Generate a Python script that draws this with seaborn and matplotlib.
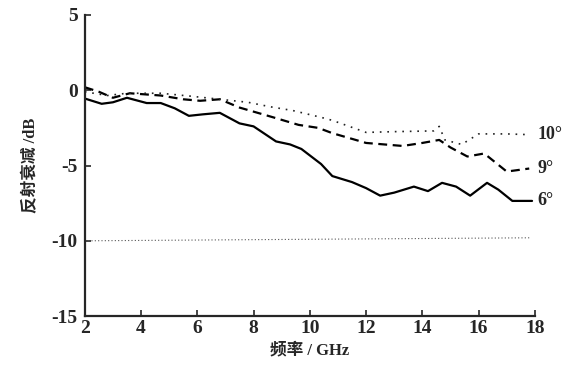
import numpy as np
import pandas as pd
import matplotlib.pyplot as plt
import seaborn as sns

# 6 deg sample (solid)
x6 = [2.0, 2.6, 3.0, 3.5, 4.2, 4.7, 5.2, 5.7, 6.2, 6.8, 7.2, 7.5, 8.0, 8.4, 8.8, 9.3, 9.7, 10.4, 10.8, 11.5, 12.0, 12.5, 13.0, 13.7, 14.2, 14.7, 15.2, 15.7, 16.3, 16.7, 17.2, 17.9]
y6 = [-0.55, -0.9, -0.8, -0.5, -0.85, -0.85, -1.2, -1.7, -1.6, -1.5, -1.9, -2.2, -2.4, -2.9, -3.4, -3.6, -3.9, -4.9, -5.7, -6.1, -6.5, -7.0, -6.8, -6.4, -6.7, -6.15, -6.4, -7.0, -6.15, -6.6, -7.35, -7.35]

# 9 deg sample (dashed)
x9 = [2.0, 2.5, 3.0, 3.6, 4.7, 5.5, 6.1, 6.8, 7.5, 8.7, 9.6, 10.3, 10.8, 12.0, 13.3, 14.0, 14.6, 15.0, 15.6, 16.2, 16.6, 17.0, 17.8]
y9 = [0.2, -0.1, -0.5, -0.2, -0.35, -0.6, -0.7, -0.6, -1.15, -1.8, -2.3, -2.5, -2.85, -3.5, -3.7, -3.5, -3.3, -3.8, -4.4, -4.2, -4.8, -5.4, -5.2]

# 10 deg sample (dotted)
x10 = [2.0, 2.8, 3.5, 4.7, 5.8, 6.8, 7.8, 8.6, 9.4, 10.4, 10.8, 12.0, 13.0, 14.4, 14.6, 14.8, 15.4, 16.0, 17.0, 17.8]
y10 = [-0.1, -0.35, -0.2, -0.2, -0.4, -0.6, -0.8, -1.1, -1.35, -1.8, -2.0, -2.8, -2.75, -2.7, -2.4, -3.3, -3.6, -2.9, -2.9, -2.95]

# -10 dB reference line
xref = [2.0, 17.8]
yref = [-10.0, -9.8]

labels = ["10°", "9°", "6°"]
label_y = [-2.95, -5.2, -7.35]

xticks = [2, 4, 6, 8, 10, 12, 14, 16, 18]
yticks = [5, 0, -5, -10, -15]

sns.set_style("ticks")
plt.rcParams['font.family'] = ['Liberation Serif', 'Noto Sans CJK SC']

fig = plt.figure(figsize=(5.69, 3.65), dpi=100)
ax = fig.add_axes([0.149, 0.134, 0.791, 0.825])

sns.lineplot(x=x6, y=y6, ax=ax, color="black", linewidth=1.6, linestyle="-")
sns.lineplot(x=x9, y=y9, ax=ax, color="black", linewidth=1.6, linestyle=(0, (4, 2.5)))
sns.lineplot(x=x10, y=y10, ax=ax, color="#222222", linewidth=1.2, linestyle=(0, (1, 3.5)))
sns.lineplot(x=xref, y=yref, ax=ax, color="#555555", linewidth=0.8, linestyle=(0, (1, 2)))

for lab, yy in zip(labels, label_y):
    ax.text(18.1, yy, lab, fontsize=13, fontweight="bold", va="center", ha="left",
            family=['Liberation Serif'])

ax.set_xlim(2, 18)
ax.set_ylim(-15, 5)
ax.set_xticks(xticks)
ax.set_yticks(yticks)
ax.set_xticklabels([str(t) for t in xticks], fontsize=14, fontweight="bold")
ax.set_yticklabels([str(t) for t in yticks], fontsize=14, fontweight="bold")
ax.tick_params(direction="in", length=4, width=1.2)
ax.tick_params(axis="x", pad=3)
ax.tick_params(axis="y", pad=5)
for s in ["top", "right"]:
    ax.spines[s].set_visible(False)
for s in ["left", "bottom"]:
    ax.spines[s].set_linewidth(1.6)

ax.set_xlabel("频率 / GHz", fontsize=12, fontweight="bold", labelpad=4)
ax.set_ylabel("反射衰减 /dB", fontsize=12, fontweight="bold", labelpad=9)

fig.savefig("out.png", dpi=100)
